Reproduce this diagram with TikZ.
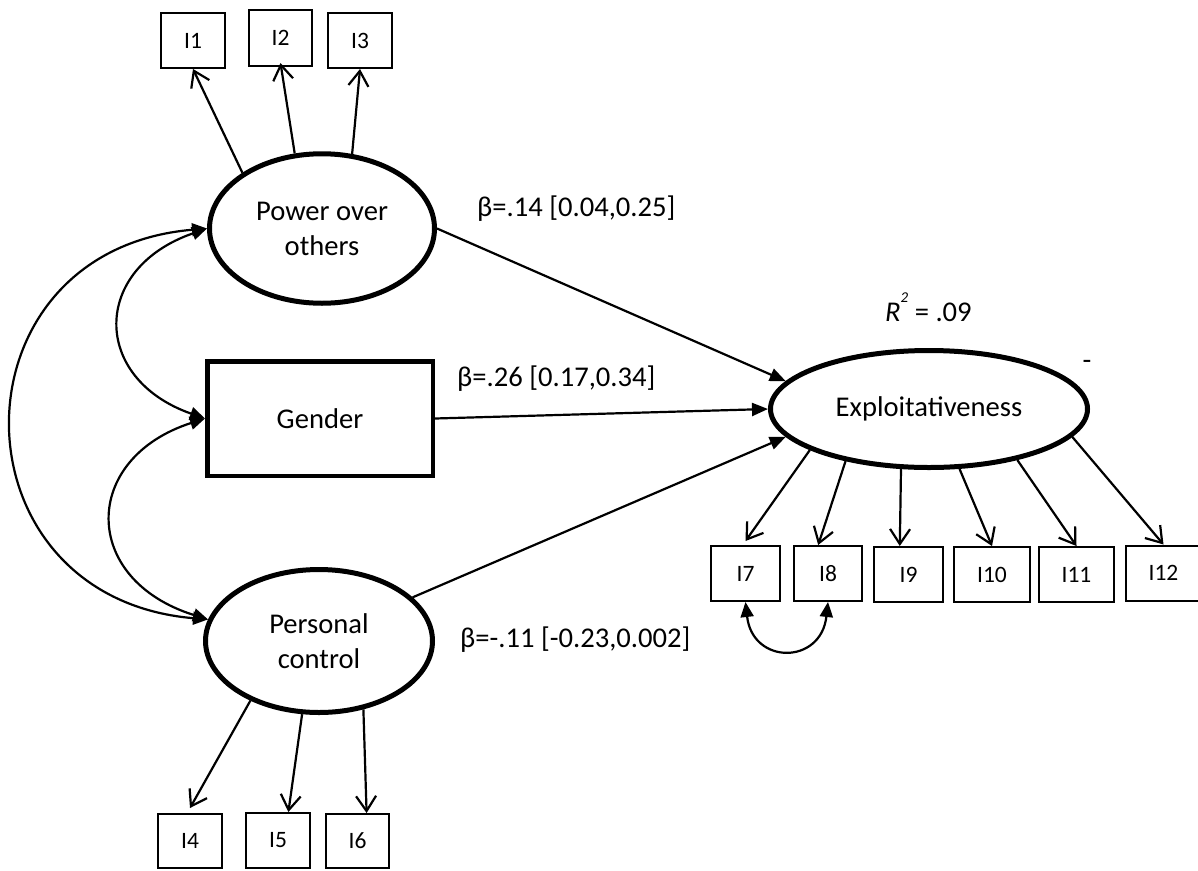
\documentclass[tikz,border=0pt]{standalone}
\usepackage{fontspec}
\setmainfont{Carlito}
\usetikzlibrary{shapes.geometric,arrows.meta}
\newcommand\bigf{\fontsize{28.6}{35}\selectfont}
\newcommand\smallf{\fontsize{23.5}{28}\selectfont}
\begin{document}
\begin{tikzpicture}[x=1pt,y=-1pt,
  lat/.style={draw, ellipse, line width=5pt, inner sep=0pt, font=\bigf, align=center},
  ind/.style={draw, rectangle, line width=2pt, inner sep=0pt, font=\smallf},
  regarrow/.style={line width=2.2pt, -{Triangle[length=16pt,width=13pt]}},
  covarrow/.style={line width=2.2pt, {Triangle[length=15pt,width=13pt]}-{Triangle[length=15pt,width=13pt]}},
  loadarrow/.style={line width=2.2pt, -{Straight Barb[length=15pt,width=20pt]}},
  lbl/.style={font=\bigf, inner sep=0pt, anchor=west}
]
\useasboundingbox (0,0) rectangle (1198,870);
\clip (0,0) rectangle (1198,870);

% latent and observed variables
\node[lat, minimum width=225pt, minimum height=149.5pt] (pow) at (322,228.5) {Power over\\others};
\node[lat, minimum width=227pt, minimum height=143pt] (pc) at (319,641) {Personal\\control};
\node[draw, line width=4.5pt, minimum width=225.5pt, minimum height=114.5pt, font=\bigf, inner sep=0pt] (gen) at (320,418.5) {Gender};
\node[lat, minimum width=317pt, minimum height=117pt] (ex) at (929,409) {Exploitativeness};

% indicators
\node[ind, minimum width=64pt, minimum height=55pt] (i1) at (193,40.5) {I1};
\node[ind, minimum width=63pt, minimum height=56pt] (i2) at (280.5,38) {I2};
\node[ind, minimum width=64pt, minimum height=55pt] (i3) at (360,40.5) {I3};
\node[ind, minimum width=64pt, minimum height=54pt] (i4) at (190,841) {I4};
\node[ind, minimum width=64pt, minimum height=55pt] (i5) at (278,840.5) {I5};
\node[ind, minimum width=63pt, minimum height=54pt] (i6) at (357.5,841) {I6};
\node[ind, minimum width=69pt, minimum height=55pt] (i7) at (745.5,573.5) {I7};
\node[ind, minimum width=68pt, minimum height=55pt] (i8) at (828,573.5) {I8};
\node[ind, minimum width=69pt, minimum height=55pt] (i9) at (908.5,574.5) {I9};
\node[ind, minimum width=76pt, minimum height=55pt] (i10) at (992,574.5) {I10};
\node[ind, minimum width=75pt, minimum height=55pt] (i11) at (1076.5,574.5) {I11};
\node[ind, minimum width=75pt, minimum height=55pt] (i12) at (1163.5,573) {I12};

% loadings
\draw[loadarrow] (pow.145) -- (i1.south);
\draw[loadarrow] (pow.110) -- ([yshift=4pt]i2.south);
\draw[loadarrow] (pow.68) -- (i3.south);
\draw[loadarrow] (pc.221) -- ([yshift=5pt]i4.north);
\draw[loadarrow] (pc.257) -- (i5.70);
\draw[loadarrow] (pc.303) -- (i6.72);
\draw[loadarrow] (ex.199) -- ([yshift=4pt]i7.north);
\draw[loadarrow] (ex.212) -- (i8.109);
\draw[loadarrow] (ex.245) -- (i9.107);
\draw[loadarrow] (ex.297) -- (i10.north);
\draw[loadarrow] (ex.330) -- (i11.north);
\draw[loadarrow] (ex.349) -- (i12.north);

% regressions
\draw[regarrow] (pow.east) -- (ex.169);
\draw[regarrow] (gen.east) -- (ex.west);
\draw[regarrow] (pc.25) -- (ex.191);

% covariances
\draw[covarrow] (pow.west) .. controls +(-260,22) and +(-260,-22) .. (pc.169);
\draw[covarrow] (pow.west) .. controls +(-116,40) and +(-114,-40) .. (gen.west);
\draw[covarrow] (gen.west) .. controls +(-124,40) and +(-128,-40) .. (pc.169);
\draw[covarrow] (i7.south) .. controls +(7,63) and +(-7,63) .. (i8.south);

% labels
\node[lbl] (b1) at (477,208.5) {β=.14 [0.04,0.25]};
\node[lbl] (b2) at (457,379) {β=.26 [0.17,0.34]};
\node[lbl] (b3) at (460,640) {β=-.11 [-0.23,0.002]};
\node[font=\bigf, anchor=base west, inner sep=0pt] (r2) at (885,321) {\textit{R}\raisebox{19pt}{\fontsize{15}{15}\selectfont\textit{2}} = .09};
\node[font=\bigf, anchor=base, inner sep=0pt] (dash) at (1087,369) {-};
\end{tikzpicture}
\end{document}
